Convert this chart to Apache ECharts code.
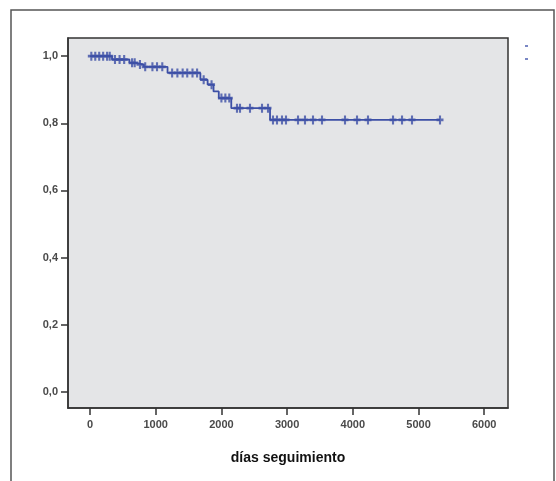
<!DOCTYPE html>
<html><head><meta charset="utf-8">
<script src="https://cdn.jsdelivr.net/npm/echarts@6/dist/echarts.min.js"></script>
<style>html,body{margin:0;padding:0;background:#fff}#c{width:556px;height:481px}</style>
</head><body><div id="c"></div>
<script>
// Kaplan-Meier steps: time (days) and survival
const stepTimes = [0, 335, 600, 700, 820, 1180, 1680, 1790, 1880, 1960, 2150, 2740];
const stepSurv  = [1.0, 0.99, 0.98, 0.975, 0.968, 0.95, 0.93, 0.915, 0.895, 0.875, 0.845, 0.81];
const lastTime = 5327;
// censored observations: times and their survival level
const censorTimes = [20, 80, 140, 200, 260, 300, 380, 450, 520, 640, 680, 760, 840, 950, 1020, 1100,
  1250, 1330, 1410, 1480, 1560, 1630, 1730, 1850, 2000, 2060, 2120, 2237, 2283, 2435, 2618, 2709,
  2785, 2846, 2922, 2983, 3166, 3272, 3394, 3531, 3881, 4064, 4231, 4612, 4749, 4901, 5327];
const xTicks = [0, 1000, 2000, 3000, 4000, 5000, 6000];
const yTicks = [0, 0.2, 0.4, 0.6, 0.8, 1.0];
const xTitle = 'días seguimiento';

function survAt(t) {
  let s = stepSurv[0];
  for (let i = 0; i < stepTimes.length; i++) if (stepTimes[i] <= t) s = stepSurv[i];
  return s;
}
const lineData = stepTimes.map((t, i) => [t, stepSurv[i]]);
lineData.push([lastTime, stepSurv[stepSurv.length - 1]]);
const censorData = censorTimes.map(t => [t, survAt(t)]);

const blue = '#3c4fa6';
const chart = echarts.init(document.getElementById('c'), null, {renderer: 'canvas'});
chart.setOption({
  animation: false,
  backgroundColor: '#fff',
  grid: {left: 68, top: 38, width: 440, height: 370, show: true,
    backgroundColor: '#e4e5e7', borderColor: '#333', borderWidth: 1.5},
  xAxis: {type: 'value', min: -335, max: 6362,
    name: xTitle, nameLocation: 'middle', nameGap: 43,
    nameTextStyle: {fontFamily: 'Liberation Sans', fontWeight: 'bold', fontSize: 14, color: '#111'},
    axisLine: {show: true, onZero: false, lineStyle: {color: '#333', width: 1.5}},
    axisTick: {show: true, length: 7, customValues: xTicks, lineStyle: {color: '#333', width: 1.5}},
    axisLabel: {customValues: xTicks, margin: 11, fontFamily: 'Liberation Sans', fontSize: 11,
      fontWeight: 'bold', color: '#4a4a4a', formatter: v => String(Math.round(v))},
    splitLine: {show: false}},
  yAxis: {type: 'value', min: -0.048, max: 1.054,
    axisLine: {show: true, onZero: false, lineStyle: {color: '#333', width: 1.5}},
    axisTick: {show: true, length: 7, customValues: yTicks, lineStyle: {color: '#333', width: 1.5}},
    axisLabel: {customValues: yTicks, margin: 10, fontFamily: 'Liberation Sans', fontSize: 11,
      fontWeight: 'bold', color: '#4a4a4a', formatter: v => v.toFixed(1).replace('.', ',')},
    splitLine: {show: false}},
  series: [
    {type: 'line', step: 'end', data: lineData, showSymbol: false, symbol: 'none',
      lineStyle: {color: blue, width: 1.8}, z: 3},
    {type: 'scatter', data: censorData,
      symbol: 'path://M3.5,0h3v3.5h3.5v3h-3.5v3.5h-3v-3.5h-3.5v-3h3.5z', symbolSize: [7, 9],
      itemStyle: {color: blue}, z: 4}
  ],
  graphic: [
    {type: 'rect', shape: {x: 11, y: 10, width: 543, height: 490}, style: {fill: 'none', stroke: '#555', lineWidth: 1.5}},
    {type: 'rect', shape: {x: 525, y: 45, width: 3, height: 2}, style: {fill: '#7a87c4'}},
    {type: 'rect', shape: {x: 525, y: 58, width: 3, height: 2}, style: {fill: '#7a87c4'}}
  ]
});
</script></body></html>
